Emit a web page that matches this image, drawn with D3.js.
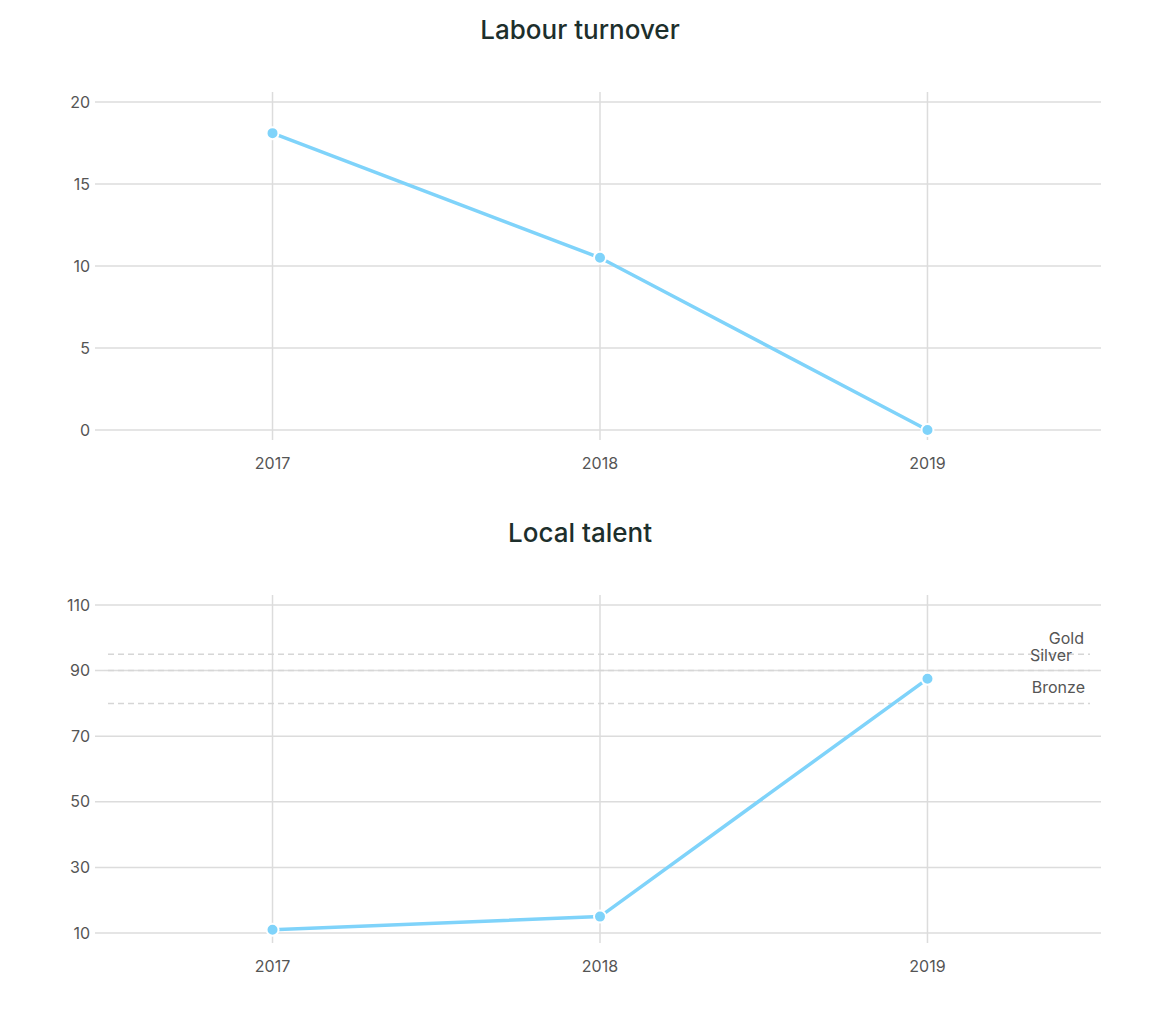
<!DOCTYPE html>
<html><head><meta charset="utf-8">
<script src="https://cdn.jsdelivr.net/npm/d3@7"></script>
<style>body{margin:0;background:#fff;font-family:Inter,"Noto Sans",sans-serif}</style>
</head><body><svg width="1160" height="1016"></svg>
<script>
var years = ["2017", "2018", "2019"];
var turnover = [18.1, 10.5, 0];
var talent = [11, 15, 87.5];
var turnoverTicks = [0, 5, 10, 15, 20];
var talentTicks = [10, 30, 50, 70, 90, 110];
var benchNames = ["Gold", "Silver", "Bronze"];
var benchValues = [95, 90, 80];
var benchLabelX = [1084, 1072, 1085];

var svg = d3.select("svg");
var left = 97, right = 1103;

function drawChart(title, titleY, top, bottom, values, ticks, bench) {
  var g = svg.append("g");
  var x = d3.scalePoint().domain(years).range([left, right]).padding(0.536);
  var y = d3.scaleLinear().domain(d3.extent(ticks)).range([bottom, top]);

  g.append("text").attr("x", 580).attr("y", titleY).attr("text-anchor", "middle")
    .attr("font-size", 26).attr("font-weight", 500).attr("fill", "#1d2f2c").text(title);

  g.selectAll(".hg").data(ticks).enter().append("line")
    .attr("x1", left - 2).attr("x2", right - 2)
    .attr("y1", function(d) { return y(d); }).attr("y2", function(d) { return y(d); })
    .attr("stroke", "#dcdcdc").attr("stroke-width", 1.5);
  g.selectAll(".vg").data(years).enter().append("line")
    .attr("x1", function(d) { return x(d); }).attr("x2", function(d) { return x(d); })
    .attr("y1", top - 10).attr("y2", bottom + 10)
    .attr("stroke", "#dcdcdc").attr("stroke-width", 1.5);

  g.selectAll(".yl").data(ticks).enter().append("text")
    .attr("x", 90).attr("y", function(d) { return y(d); }).attr("dy", "0.35em")
    .attr("text-anchor", "end").attr("font-size", 16).attr("fill", "#555").text(function(d) { return d; });
  g.selectAll(".xl").data(years).enter().append("text")
    .attr("x", function(d) { return x(d); }).attr("y", bottom + 39)
    .attr("text-anchor", "middle").attr("font-size", 16).attr("fill", "#555").text(function(d) { return d; });

  if (bench) {
    bench.values.forEach(function(v, i) {
      g.append("line").attr("x1", left + 11).attr("x2", 1090)
        .attr("y1", y(v)).attr("y2", y(v))
        .attr("stroke", "#d6d6d6").attr("stroke-width", 1.5).attr("stroke-dasharray", "6,4");
      g.append("text").attr("x", bench.labelX[i]).attr("y", y(v) - 10).attr("text-anchor", "end")
        .attr("font-size", 16).attr("fill", "#555").text(bench.names[i]);
    });
  }

  var line = d3.line().x(function(d, i) { return x(years[i]); }).y(function(d) { return y(d); });
  g.append("path").datum(values).attr("fill", "none").attr("stroke", "#7fd3fa")
    .attr("stroke-width", 3.5).attr("d", line);
  g.selectAll(".pt").data(values).enter().append("circle")
    .attr("cx", function(d, i) { return x(years[i]); }).attr("cy", function(d) { return y(d); })
    .attr("r", 6).attr("fill", "#7fd3fa").attr("stroke", "#fff").attr("stroke-width", 2);
}

drawChart("Labour turnover", 39, 102, 430, turnover, turnoverTicks, null);
drawChart("Local talent", 542, 605, 933, talent, talentTicks, {names: benchNames, values: benchValues, labelX: benchLabelX});
</script></body></html>
